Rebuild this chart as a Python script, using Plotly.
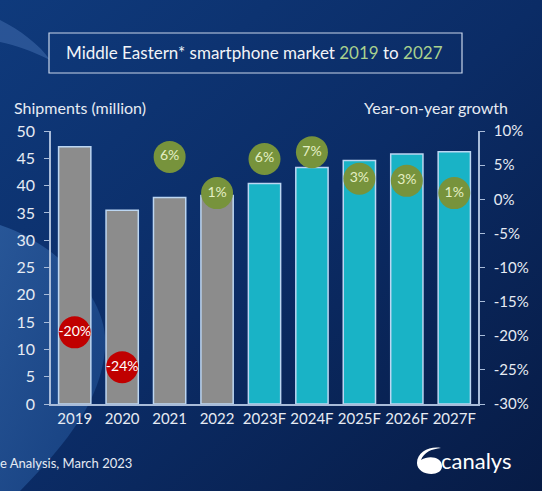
import base64

import plotly.graph_objects as go

# Data
years = ["2019", "2020", "2021", "2022", "2023F", "2024F", "2025F", "2026F", "2027F"]
shipments = [47.1, 35.5, 37.8, 38.2, 40.4, 43.3, 44.6, 45.8, 46.2]
growth = [-19.5, -24.6, 6.2, 0.9, 5.9, 6.9, 3.0, 2.7, 0.9]
growth_labels = ["-20%", "-24%", "6%", "1%", "6%", "7%", "3%", "3%", "1%"]
bar_colors = ["#8c8c8c"] * 4 + ["#19b3c6"] * 5
circle_colors = ["#c00000" if g < 0 else "#77933c" for g in growth]
circle_text_colors = ["#ffffff" if g < 0 else "#e4efc4" for g in growth]

left_ticks = list(range(0, 55, 5))
right_ticks = list(range(-30, 15, 5))

FONT = "Lato, 'Open Sans', sans-serif"
TEXT = "#e6ebf3"
AXIS = "#a9bcd9"

# plot area in pixels (paper coords derived from it)
PL, PR, PT, PB = 51, 478, 131, 404
PW, PH = PR - PL, PB - PT


def px(x):
    return (x - PL) / PW


def py(y):
    return (PB - y) / PH


# background: navy gradient with a lighter arc on the left
svg = """<svg xmlns='http://www.w3.org/2000/svg' width='542' height='491' viewBox='0 0 542 491'>
<defs>
<linearGradient id='g' x1='0' y1='0' x2='1' y2='1'>
<stop offset='0' stop-color='#0f3a7c'/>
<stop offset='0.5' stop-color='#0b2c66'/>
<stop offset='1' stop-color='#071b45'/>
</linearGradient>
<linearGradient id='h' x1='0' y1='0' x2='1' y2='1'>
<stop offset='0' stop-color='#2c5c9e'/>
<stop offset='1' stop-color='#174283'/>
</linearGradient>
</defs>
<rect width='542' height='491' fill='url(#g)'/>
<path d='M0 225 C60 245 110 300 105 350 C100 400 70 440 20 491 L0 491 Z' fill='url(#h)' opacity='0.85'/>
<path d='M0 20 C20 30 40 45 50 60 C30 50 15 45 0 42 Z' fill='#3c67a8' opacity='0.6'/>
</svg>"""
bg_src = "data:image/svg+xml;base64," + base64.b64encode(svg.encode()).decode()

fig = go.Figure()

fig.add_trace(
    go.Bar(
        x=years,
        y=shipments,
        marker=dict(color=bar_colors, line=dict(color="#bcd6f2", width=1.5)),
        hoverinfo="x+y",
    )
)

fig.add_trace(
    go.Scatter(
        x=years,
        y=growth,
        yaxis="y2",
        mode="markers+text",
        text=growth_labels,
        textposition="middle center",
        textfont=dict(family=FONT, size=14, color=circle_text_colors),
        marker=dict(size=32, color=circle_colors, line=dict(width=0)),
        cliponaxis=False,
    )
)

fig.update_layout(
    width=542,
    height=491,
    margin=dict(l=PL, r=542 - PR, t=PT, b=491 - PB),
    paper_bgcolor="#0b2c66",
    plot_bgcolor="rgba(0,0,0,0)",
    showlegend=False,
    bargap=0.32,
    font=dict(family=FONT, size=14, color=TEXT),
    xaxis=dict(
        automargin=False,
        range=[-0.5, len(years) - 0.5],
        showgrid=False,
        showline=True,
        linecolor=AXIS,
        linewidth=1.5,
        ticks="",
        tickangle=0,
        tickfont=dict(size=15, color=TEXT),
    ),
    yaxis=dict(
        automargin=False,
        range=[0, 50],
        tickvals=left_ticks,
        showgrid=False,
        zeroline=False,
        showline=True,
        linecolor=AXIS,
        linewidth=1.5,
        ticks="outside",
        ticklen=5,
        tickcolor=AXIS,
        tickfont=dict(size=16, color=TEXT),
        ticklabelstandoff=6,
    ),
    yaxis2=dict(
        automargin=False,
        range=[-30, 10],
        tickvals=right_ticks,
        ticktext=[f"{v}%" for v in right_ticks],
        overlaying="y",
        side="right",
        showgrid=False,
        zeroline=False,
        showline=True,
        linecolor=AXIS,
        linewidth=1.5,
        ticks="outside",
        ticklen=5,
        tickcolor=AXIS,
        tickfont=dict(size=15, color=TEXT),
        ticklabelstandoff=6,
    ),
    images=[
        dict(
            source=bg_src,
            xref="paper", yref="paper",
            x=px(0), y=py(0),
            sizex=542 / PW, sizey=491 / PH,
            xanchor="left", yanchor="top",
            sizing="stretch",
            layer="below",
        )
    ],
    shapes=[
        # title box
        dict(
            type="rect", xref="paper", yref="paper",
            x0=px(49), x1=px(462),
            y0=py(73), y1=py(33),
            line=dict(color="#c9d6ea", width=1.2),
            fillcolor="rgba(0,0,0,0)",
        ),
    ],
)

annotations = [
    dict(
        text="Middle Eastern* smartphone market <span style='color:#a9d18e'>2019</span> to "
        "<span style='color:#a9d18e'>2027</span>",
        xref="paper", yref="paper",
        x=px(254), y=py(53),
        xanchor="center", yanchor="middle",
        font=dict(size=17, color="#f2f4f8"),
        showarrow=False,
    ),
    dict(
        text="Shipments (million)",
        xref="paper", yref="paper",
        x=px(12), y=py(107),
        xanchor="left", yanchor="middle",
        font=dict(size=16, color=TEXT),
        showarrow=False,
    ),
    dict(
        text="Year-on-year growth",
        xref="paper", yref="paper",
        x=px(510), y=py(107),
        xanchor="right", yanchor="middle",
        font=dict(size=16, color=TEXT),
        showarrow=False,
    ),
    dict(
        text="e Analysis, March 2023",
        xref="paper", yref="paper",
        x=px(-2), y=py(463),
        xanchor="left", yanchor="middle",
        font=dict(size=13, color=TEXT),
        showarrow=False,
    ),
    dict(
        text="canalys",
        xref="paper", yref="paper",
        x=px(514), y=py(460),
        xanchor="right", yanchor="middle",
        font=dict(size=22, color="#ffffff"),
        showarrow=False,
    ),
]
fig.update_layout(annotations=annotations)

# canalys logo mark, drawn in pixel coordinates
logo = [
    ("M", 417, 463),
    ("C", 417, 476, 442, 478, 442, 466),
    ("C", 442, 457, 429, 455, 421, 460),
    ("C", 424, 452, 432, 449, 441, 448),
    ("C", 430, 446, 417, 452, 417, 463),
]
parts = []
for seg in logo:
    cmd, pts = seg[0], seg[1:]
    coords = " ".join(f"{px(pts[i]):.4f},{py(pts[i + 1]):.4f}" for i in range(0, len(pts), 2))
    parts.append(f"{cmd} {coords}")
fig.add_shape(
    type="path",
    xref="paper", yref="paper",
    path=" ".join(parts) + " Z",
    fillcolor="#ffffff",
    line=dict(width=0),
)

fig.write_html(
    "out.html",
    config={"displayModeBar": False},
    post_script="document.body.style.margin='0';",
)
